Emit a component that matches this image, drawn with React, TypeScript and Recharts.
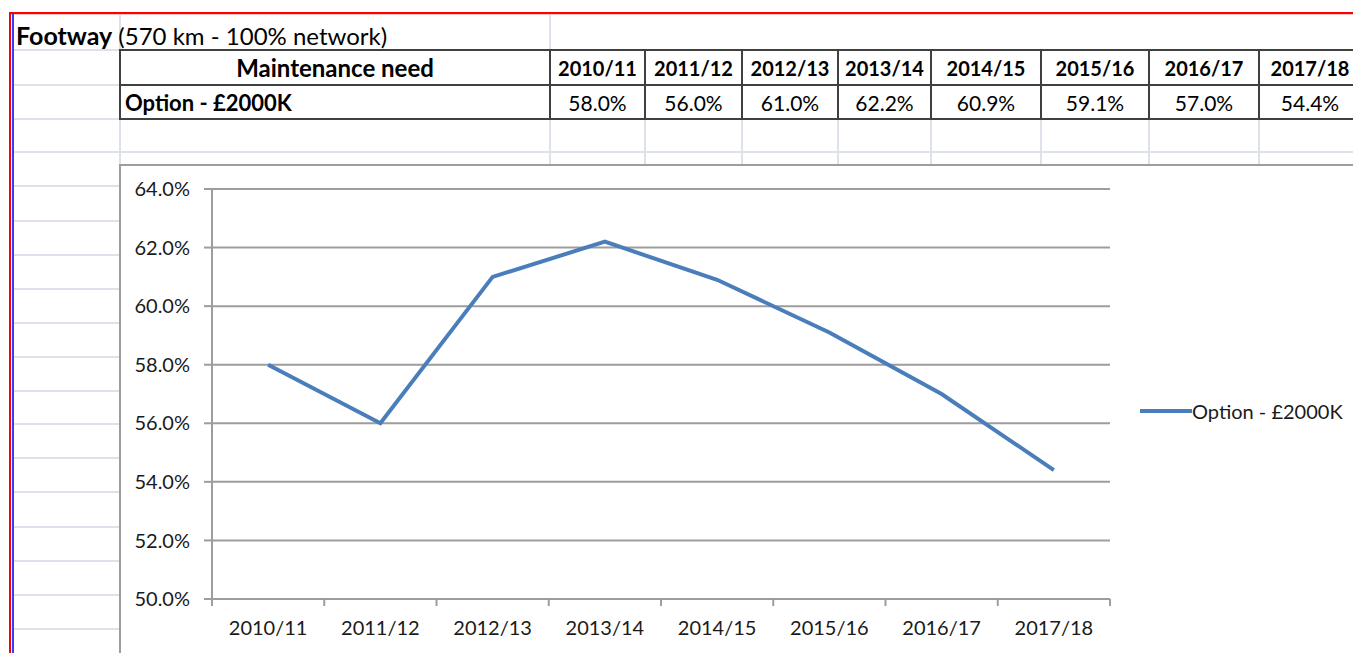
import React from 'react';
import { CartesianGrid, Legend, Line, LineChart, XAxis, YAxis } from 'recharts';

// values
const years = ['2010/11', '2011/12', '2012/13', '2013/14', '2014/15', '2015/16', '2016/17', '2017/18'];
const needPct = [58.0, 56.0, 61.0, 62.2, 60.9, 59.1, 57.0, 54.4];
const yTicks = [50, 52, 54, 56, 58, 60, 62, 64];
const seriesName = 'Option - £2000K';
const titleBold = 'Footway';
const titleRest = ' (570 km - 100% network)';
const headerLabel = 'Maintenance need';

const chartData = years.map((year, i) => ({ year, need: needPct[i] }));

const FONT = 'Lato, "Open Sans", sans-serif';
const GRID = '#9d9d9d';
const SHEET = '#dde2ea';
const BORDER = '#404040';
const LINE_BLUE = '#4a7ebb';

// sheet layout (px)
const colEdges = [120, 550, 645, 742, 838, 931, 1041, 1149, 1259, 1361];
const rowLines = [50, 85, 119, 152, 186, 221, 255, 289, 323, 357, 391, 424, 458, 492, 527, 561, 595, 629];

function YearTick(props: any) {
  const { x, y, payload, index } = props;
  const half = payload?.offset || 56;
  const axisY = y - 22;
  return (
    <g>
      <line x1={x - half} x2={x - half} y1={axisY} y2={axisY + 7} stroke={GRID} strokeWidth={2} />
      {index === years.length - 1 && (
        <line x1={x + half} x2={x + half} y1={axisY} y2={axisY + 7} stroke={GRID} strokeWidth={2} />
      )}
      <text x={x} y={y} dy="0.71em" textAnchor="middle" fontSize={20} fill="#1a1a1a" fontFamily={FONT}>
        {payload.value}
      </text>
    </g>
  );
}

function LegendContent({ payload }: any) {
  return (
    <div style={{ display: 'flex', alignItems: 'center', height: 24 }}>
      {(payload || []).map((p: any) => (
        <React.Fragment key={p.value}>
          <svg width={52} height={6} style={{ display: 'block' }}>
            <line x1={0} x2={52} y1={3} y2={3} stroke={p.color} strokeWidth={4} />
          </svg>
          <span style={{ fontFamily: FONT, fontSize: 20, color: '#1a1a1a', whiteSpace: 'nowrap' }}>{p.value}</span>
        </React.Fragment>
      ))}
    </div>
  );
}

function abs(left: number, top: number, width: number, height: number, extra: React.CSSProperties = {}): React.CSSProperties {
  return { position: 'absolute', left, top, width, height, ...extra };
}

export default function App() {
  const tableCells = years.map((y, i) => ({ y, v: needPct[i], l: colEdges[i + 1], r: colEdges[i + 2] }));
  return (
    <div style={abs(0, 0, 1353, 653, { overflow: 'hidden', background: '#fff', fontFamily: FONT })}>
      {/* sheet gridlines */}
      {rowLines.map((ry) => (
        <div key={'r' + ry} style={abs(14, ry - 1, 1353, 2, { background: SHEET })} />
      ))}
      <div style={abs(119, 14, 2, 640, { background: SHEET })} />
      <div style={abs(549, 14, 2, 152, { background: SHEET })} />
      {colEdges.slice(2, 9).map((cx) => (
        <div key={'c' + cx} style={abs(cx - 1, 119, 2, 47, { background: SHEET })} />
      ))}
      {/* window edges */}
      <div style={abs(9, 12, 1353, 2, { background: '#ff0000' })} />
      <div style={abs(9, 14, 1353, 1, { background: '#f2c6c6' })} />
      <div style={abs(9, 12, 2, 660, { background: '#ff0000' })} />
      <div style={abs(12, 14, 2, 660, { background: '#3b3bff' })} />

      {/* title */}
      <div style={abs(16, 20, 600, 30, { fontSize: 24, lineHeight: '30px', color: '#000', whiteSpace: 'nowrap' })}>
        <b style={{ fontSize: 25 }}>{titleBold}</b>
        {titleRest}
      </div>

      {/* table */}
      {[50, 85, 119].map((ty) => (
        <div key={'t' + ty} style={abs(120, ty - 1, 1300, 2, { background: BORDER })} />
      ))}
      {colEdges.slice(0, 9).map((cx) => (
        <div key={'v' + cx} style={abs(cx - 1, 49, 2, 71, { background: BORDER })} />
      ))}
      <div style={abs(120, 50, 430, 35, { display: 'flex', alignItems: 'center', justifyContent: 'center', fontSize: 24, fontWeight: 700 })}>
        {headerLabel}
      </div>
      <div style={abs(125, 85, 420, 34, { display: 'flex', alignItems: 'center', fontSize: 22, fontWeight: 700 })}>
        {seriesName}
      </div>
      {tableCells.map((c) => (
        <React.Fragment key={c.y}>
          <div style={abs(c.l, 50, c.r - c.l, 35, { display: 'flex', alignItems: 'center', justifyContent: 'center', fontSize: 20, fontWeight: 700, whiteSpace: 'nowrap' })}>
            {c.y}
          </div>
          <div style={abs(c.l, 85, c.r - c.l, 34, { display: 'flex', alignItems: 'center', justifyContent: 'center', fontSize: 21, whiteSpace: 'nowrap' })}>
            {c.v.toFixed(1)}%
          </div>
        </React.Fragment>
      ))}

      {/* chart frame */}
      <div style={abs(119, 164, 1300, 600, { border: `2px solid ${GRID}`, background: '#fff', boxSizing: 'border-box' })} />
      <div style={abs(120, 165, 1233, 488)}>
        <LineChart width={1233} height={488} data={chartData} margin={{ top: 24, right: 243, left: 12, bottom: 24 }}>
          <CartesianGrid vertical={false} stroke={GRID} strokeWidth={2} />
          <XAxis
            dataKey="year"
            scale="band"
            interval={0}
            height={30}
            tickLine={false}
            tickSize={7}
            tickMargin={15}
            axisLine={{ stroke: GRID, strokeWidth: 2 }}
            tick={<YearTick />}
          />
          <YAxis
            type="number"
            domain={[50, 64]}
            ticks={yTicks}
            interval={0}
            width={80}
            tickSize={8}
            tickMargin={14}
            tickFormatter={(v: number) => `${v.toFixed(1)}%`}
            axisLine={{ stroke: GRID, strokeWidth: 2 }}
            tickLine={{ stroke: GRID, strokeWidth: 2 }}
            tick={{ fontSize: 20, fill: '#1a1a1a', fontFamily: FONT }}
          />
          <Legend
            layout="horizontal"
            align="center"
            verticalAlign="middle"
            wrapperStyle={{ left: 1020, top: 234, width: 230 }}
            content={<LegendContent />}
          />
          <Line
            type="linear"
            dataKey="need"
            name={seriesName}
            stroke={LINE_BLUE}
            strokeWidth={4}
            dot={false}
            isAnimationActive={false}
          />
        </LineChart>
      </div>
    </div>
  );
}
